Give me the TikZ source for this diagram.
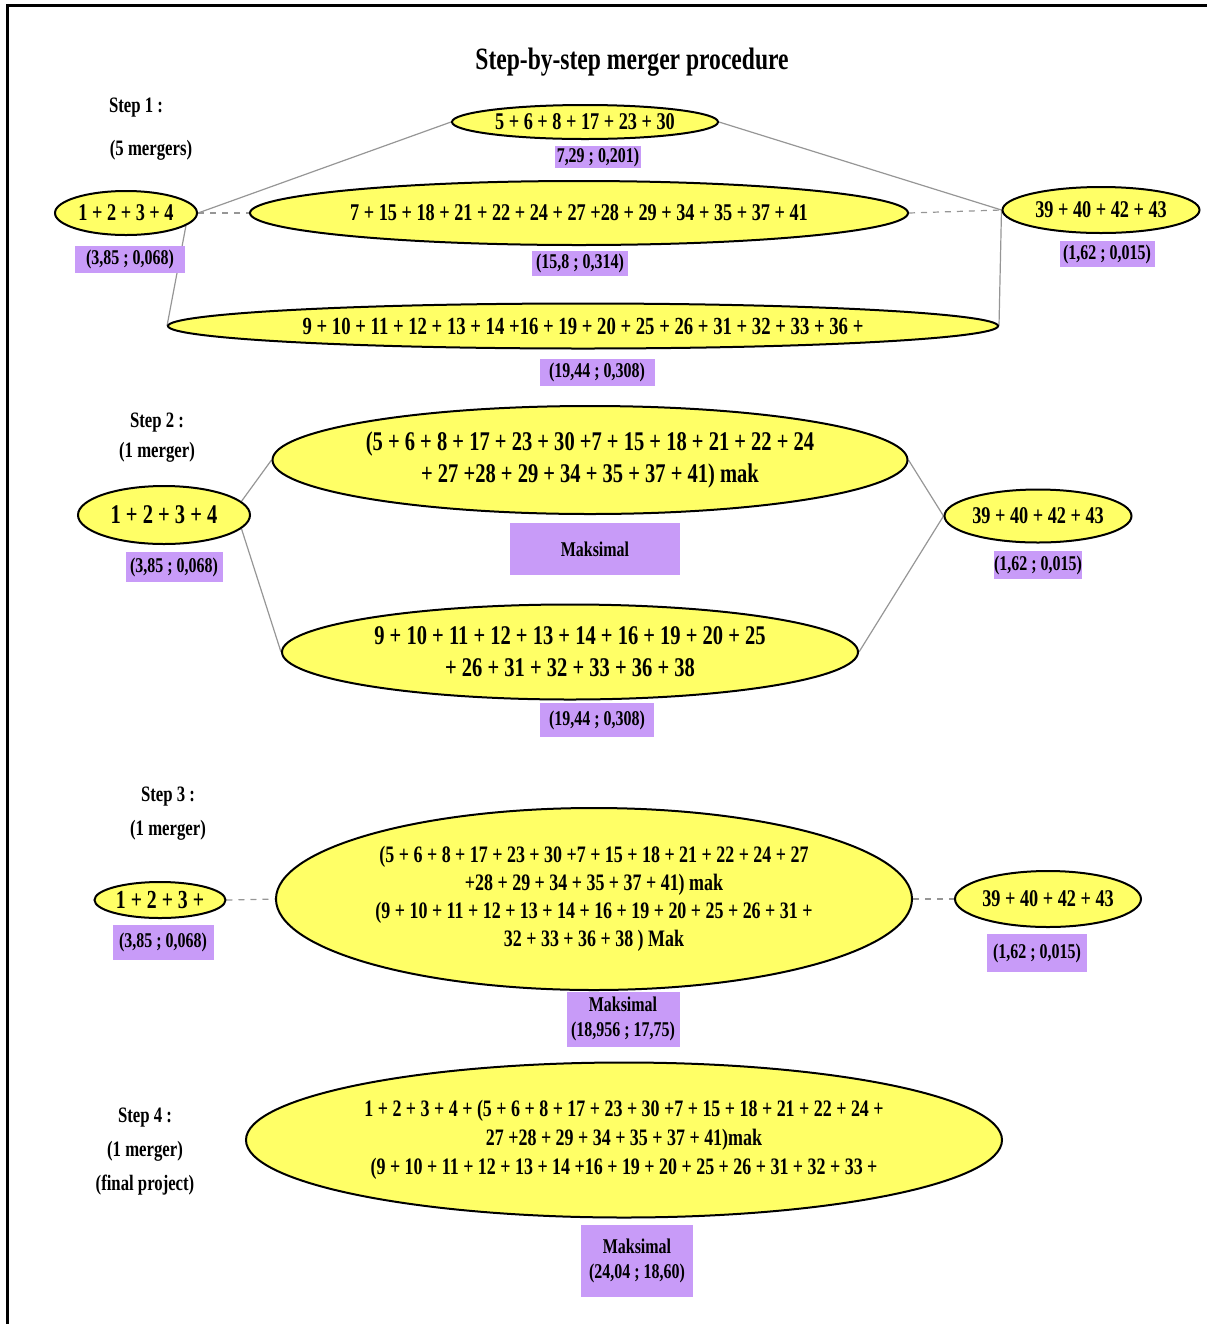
\documentclass[tikz,border=0pt]{standalone}
\usepackage{fontspec}
\setmainfont{Liberation Serif}[FakeStretch=0.76]
\usetikzlibrary{shapes.geometric,backgrounds}

\definecolor{ovalyellow}{RGB}{255,255,102}
\definecolor{boxlilac}{RGB}{200,155,248}
\definecolor{linkgray}{RGB}{150,150,150}

\tikzset{every picture/.style={line width=0.75pt}}
\tikzset{
	oval/.style 2 args={ellipse, draw=black, line width=1pt, fill=ovalyellow, minimum width=#1*0.5pt, minimum height=#2*0.5pt, inner sep=0pt, align=center},
	valbox/.style 2 args={rectangle, fill=boxlilac, minimum width=#1*0.5pt, minimum height=#2*0.5pt, inner sep=0pt, align=center, font=\bfseries\fontsize{10.5}{12.5}\selectfont},
	steplbl/.style={align=center, font=\bfseries\fontsize{11}{17}\selectfont},
	link/.style={draw=linkgray, line width=0.6pt},
	dlink/.style={link, dashed}
}

\begin{document}
\begin{tikzpicture}[x=0.5pt,y=0.5pt,yscale=-1,xscale=1]
	\useasboundingbox (0,0) rectangle (1207,1324);
	% frame
	\draw[line width=1.5pt] (7,1324) -- (7,5) -- (1207,5);
	
	% title
	\node[font=\bfseries\fontsize{15.5}{18}\selectfont] (title) at (632,62) {Step-by-step merger procedure};
	
	%% Step 1
	\node[steplbl] (st1) at (136,108) {Step 1 :};
	\node[steplbl] (st1m) at (151,150) {(5 mergers)};
	
	\node[oval={142}{44}, font=\bfseries\fontsize{12}{14}\selectfont] (s1a) at (126,213) {1 + 2 + 3 + 4};
	\node[valbox={110}{27}] (v1a) at (130,259) {(3,85 ; 0,068)};
	
	\node[oval={266}{34}, font=\bfseries\fontsize{12}{14}\selectfont] (s1top) at (585,122) {5 + 6 + 8 + 17 + 23 + 30};
	\node[valbox={86}{22}] (v1top) at (598,157) {7,29 ; 0,201)};
	
	\node[oval={658}{64}, font=\bfseries\fontsize{12}{14}\selectfont] (s1mid) at (579,213) {7 + 15 + 18 + 21 + 22 + 24 + 27 +28 + 29 + 34 + 35 + 37 + 41};
	\node[valbox={96}{25}] (v1mid) at (580,263) {(15,8 ; 0,314)};
	
	\node[oval={830}{45}, font=\bfseries\fontsize{12.3}{14}\selectfont] (s1bot) at (583,326) {9 + 10 + 11 + 12 + 13 + 14 +16 + 19 + 20 + 25 + 26 + 31 + 32 + 33 + 36 +};
	\node[valbox={115}{27}] (v1bot) at (597,372) {(19,44 ; 0,308)};
	
	\node[oval={197}{46}, font=\bfseries\fontsize{12}{14}\selectfont] (s1r) at (1101,210) {39 + 40 + 42 + 43};
	\node[valbox={95}{26}] (v1r) at (1107,254) {(1,62 ; 0,015)};
	
	\begin{pgfonlayer}{background}
		\draw[link] (s1a.east) -- (s1top.west);
		\draw[dlink] (s1a.east) -- (s1mid.west);
		\draw[link] (s1a.-12) -- (s1bot.west);
		\draw[link] (s1top.east) -- (s1r.west);
		\draw[dlink] (s1mid.east) -- (s1r.west);
		\draw[link] (s1r.west) -- (s1bot.east);
	\end{pgfonlayer}
	
	%% Step 2
	\node[steplbl, font=\bfseries\fontsize{11}{15}\selectfont] (st2) at (157,438) {Step 2 :\\(1 merger)};
	
	\node[oval={172}{58}, font=\bfseries\fontsize{13.5}{15}\selectfont] (s2a) at (164,515) {1 + 2 + 3 + 4};
	\node[valbox={97}{30}] (v2a) at (174,567) {(3,85 ; 0,068)};
	
	\node[oval={635}{108}, font=\bfseries\fontsize{13.5}{16}\selectfont] (s2top) at (590,460) {(5 + 6 + 8 + 17 + 23 + 30 +7 + 15 + 18 + 21 + 22 + 24\\+ 27 +28 + 29 + 34 + 35 + 37 + 41) mak};
	\node[valbox={170}{52}] (v2top) at (595,549) {Maksimal};
	
	\node[oval={576}{95}, font=\bfseries\fontsize{13.5}{16}\selectfont] (s2bot) at (570,652) {9 + 10 + 11 + 12 + 13 + 14 + 16 + 19 + 20 + 25\\+ 26 + 31 + 32 + 33 + 36 + 38};
	\node[valbox={114}{34}] (v2bot) at (597,720) {(19,44 ; 0,308)};
	
	\node[oval={187}{53}, font=\bfseries\fontsize{12}{14}\selectfont] (s2r) at (1038,516) {39 + 40 + 42 + 43};
	\node[valbox={87}{28}] (v2r) at (1038,565) {(1,62 ; 0,015)};
	
	\begin{pgfonlayer}{background}
		\draw[link] (s2a.10) -- (s2top.west);
		\draw[link] (s2a.-10) -- (s2bot.west);
		\draw[link] (s2top.east) -- (s2r.west);
		\draw[link] (s2bot.east) -- (s2r.west);
	\end{pgfonlayer}
	
	%% Step 3
	\node[steplbl] (st3) at (168,814) {Step 3 :\\(1 merger)};
	
	\node[oval={131}{36}, font=\bfseries\fontsize{13}{15}\selectfont] (s3a) at (160,900) {1 + 2 + 3 +};
	\node[valbox={101}{35}] (v3a) at (163,942) {(3,85 ; 0,068)};
	
	\node[oval={636}{182}, font=\bfseries\fontsize{11.8}{14}\selectfont] (s3mid) at (594,899) {(5 + 6 + 8 + 17 + 23 + 30 +7 + 15 + 18 + 21 + 22 + 24 + 27\\+28 + 29 + 34 + 35 + 37 + 41) mak\\(9 + 10 + 11 + 12 + 13 + 14 + 16 + 19 + 20 + 25 + 26 + 31 +\\32 + 33 + 36 + 38 ) Mak};
	\node[valbox={113}{55}] (v3mid) at (623,1019) {Maksimal\\(18,956 ; 17,75)};
	
	\node[oval={186}{56}, font=\bfseries\fontsize{12}{14}\selectfont] (s3r) at (1048,899) {39 + 40 + 42 + 43};
	\node[valbox={100}{38}] (v3r) at (1037,953) {(1,62 ; 0,015)};
	
	\begin{pgfonlayer}{background}
		\draw[dlink] (s3a.east) -- (s3mid.west);
		\draw[dlink] (s3mid.east) -- (s3r.west);
	\end{pgfonlayer}
	
	%% Step 4
	\node[steplbl] (st4) at (145,1152) {Step 4 :\\(1 merger)\\(final project)};
	
	\node[oval={756}{155}, font=\bfseries\fontsize{11.8}{14.5}\selectfont] (s4) at (624,1140) {1 + 2 + 3 + 4 + (5 + 6 + 8 + 17 + 23 + 30 +7 + 15 + 18 + 21 + 22 + 24 +\\27 +28 + 29 + 34 + 35 + 37 + 41)mak\\(9 + 10 + 11 + 12 + 13 + 14 +16 + 19 + 20 + 25 + 26 + 31 + 32 + 33 +};
	\node[valbox={112}{72}] (v4) at (637,1261) {Maksimal\\(24,04 ; 18,60)};
\end{tikzpicture}
\end{document}
